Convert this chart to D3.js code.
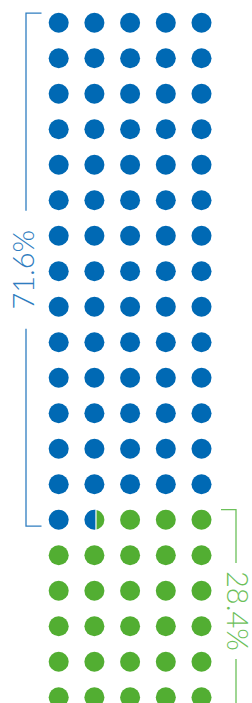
<!DOCTYPE html>
<html><head><meta charset="utf-8">
<script src="https://cdn.jsdelivr.net/npm/d3@7"></script>
<style>html,body{margin:0;padding:0;background:#fff;}svg{display:block;}</style>
</head><body>
<script>
const categories = ["71.6%", "28.4%"];
const values = [71.6, 28.4];
const dotColors = ["#0069b4", "#52ae32"];
const lineColors = ["#2f7dc0", "#6cc05a"];
const totalDots = 100;
const nCols = 5;

const W = 252, H = 703;
const nRows = Math.ceil(totalDots / nCols);
const svg = d3.select("body").append("svg").attr("width", W).attr("height", H);

const x = d3.scalePoint().domain(d3.range(nCols)).range([58.7, 201.5]);
const y = d3.scalePoint().domain(d3.range(nRows)).range([22.7, 22.7 + (nRows - 1) * 35.5]);
const r = 10;

// assign fractional fill per dot
const dots = d3.range(totalDots).map(i => {
  const start = i, end = i + 1;
  const blueShare = Math.max(0, Math.min(1, values[0] - start));
  return { i, col: i % nCols, row: Math.floor(i / nCols), blue: blueShare };
});

// area-based cut offset for a partial dot
function cutOffset(frac) {
  let lo = -r, hi = r;
  for (let k = 0; k < 60; k++) {
    const m = (lo + hi) / 2;
    // area of circle left of x=m
    const t = m / r;
    const a = (r * r) * (Math.acos(-t) - (-t) * Math.sqrt(1 - t * t)) / (Math.PI * r * r);
    if (a < frac) lo = m; else hi = m;
  }
  return (lo + hi) / 2;
}

const defs = svg.append("defs");
const g = svg.append("g");
dots.forEach(d => {
  const cx = x(d.col), cy = y(d.row);
  if (d.blue >= 1 || d.blue <= 0) {
    g.append("circle").attr("cx", cx).attr("cy", cy).attr("r", r)
      .attr("fill", d.blue >= 1 ? dotColors[0] : dotColors[1]);
  } else {
    const c = cx + cutOffset(d.blue);
    defs.append("clipPath").attr("id", "cl" + d.i).append("rect")
      .attr("x", cx - r - 1).attr("y", cy - r - 1).attr("width", c - (cx - r - 1)).attr("height", 2 * r + 2);
    defs.append("clipPath").attr("id", "cr" + d.i).append("rect")
      .attr("x", c).attr("y", cy - r - 1).attr("width", cx + r + 1 - c).attr("height", 2 * r + 2);
    g.append("circle").attr("cx", cx).attr("cy", cy).attr("r", r).attr("fill", dotColors[0]).attr("clip-path", `url(#cl${d.i})`);
    g.append("circle").attr("cx", cx).attr("cy", cy).attr("r", r).attr("fill", dotColors[1]).attr("clip-path", `url(#cr${d.i})`);
    g.append("line").attr("x1", c).attr("x2", c).attr("y1", cy - r - 0.5).attr("y2", cy + r + 0.5)
      .attr("stroke", "#fff").attr("stroke-width", 1.2);
  }
});

// brackets
const splitRow = Math.floor(values[0] / nCols);
const fontSize = 29;
function bracket(sel, x0, xTick, yTop, yBot, gapHalf, color) {
  const mid = (yTop + yBot) / 2;
  sel.append("path")
    .attr("d", `M${xTick},${yTop}H${x0}V${mid - gapHalf}M${x0},${mid + gapHalf}V${yBot}H${xTick}`)
    .attr("fill", "none").attr("stroke", color).attr("stroke-width", 1.3);
  return mid;
}
// blue bracket (left)
const bTop = y(0) - r + 0.5, bBot = y(splitRow) + r - 3.5;
const bMid = bracket(svg, 26, 41.5, bTop, bBot, 59, lineColors[0]);
svg.append("text").attr("transform", `translate(33.5,${bMid}) rotate(-90)`)
  .attr("text-anchor", "middle").attr("font-family", "Lato, 'Open Sans', sans-serif").attr("font-weight", 300)
  .attr("font-size", fontSize).attr("fill", lineColors[0]).text(categories[0]);
// green bracket (right)
const gTop = y(splitRow) - r, gBot = y(nRows - 1) + r + 5;
const gMid = bracket(svg, 236, 221, gTop, gBot, 48, lineColors[1]);
svg.append("text").attr("transform", `translate(227,${gMid}) rotate(90)`)
  .attr("text-anchor", "middle").attr("font-family", "Lato, 'Open Sans', sans-serif").attr("font-weight", 300)
  .attr("font-size", fontSize).attr("fill", lineColors[1]).text(categories[1]);
</script>
</body></html>
